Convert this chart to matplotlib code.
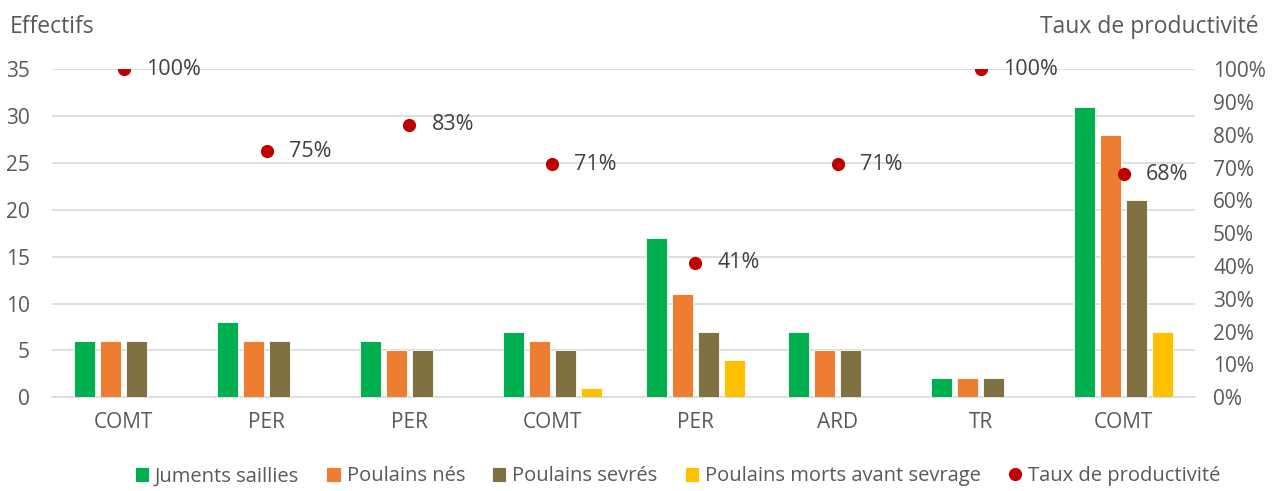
import numpy as np
import matplotlib.pyplot as plt

plt.rcParams['font.family'] = ['Open Sans', 'DejaVu Sans']

# Data
categories = ["COMT", "PER", "PER", "COMT", "PER", "ARD", "TR", "COMT"]
juments = [6, 8, 6, 7, 17, 7, 2, 31]
poulains_nes = [6, 6, 5, 6, 11, 5, 2, 28]
poulains_sevres = [6, 6, 5, 5, 7, 5, 2, 21]
poulains_morts = [0, 0, 0, 1, 4, 0, 0, 7]
taux = [1.00, 0.75, 0.83, 0.71, 0.41, 0.71, 1.00, 0.68]

series = [("Juments saillies", juments, "#00B050"),
          ("Poulains nés", poulains_nes, "#ED7D31"),
          ("Poulains sevrés", poulains_sevres, "#7F7142"),
          ("Poulains morts avant sevrage", poulains_morts, "#FFC000")]

grey = "#595959"
grid = "#D9D9D9"

fig = plt.figure(figsize=(12.74, 4.91), dpi=100)
ax = fig.add_axes([0.041, 0.191, 0.897, 0.668])
ax2 = ax.twinx()

x = np.arange(len(categories))
step = 0.182
width = 0.147
handles = []
for i, (name, vals, col) in enumerate(series):
    h = ax.bar(x + (i - 1.5) * step, vals, width, color=col, edgecolor="white",
               linewidth=0.6, label=name, zorder=3)
    handles.append(h)

ax.set_ylim(0, 35)
ax.set_yticks(range(0, 36, 5))
ax.set_xlim(-0.5, len(categories) - 0.5)
ax.set_xticks(x)
ax.set_xticklabels(categories)
ax.grid(axis="y", color=grid, linewidth=1.2, zorder=0)
ax.set_axisbelow(True)
for s in ["top", "right", "left"]:
    ax.spines[s].set_visible(False)
ax.spines["bottom"].set_color(grid)
ax.spines["bottom"].set_linewidth(1.2)
ax.tick_params(axis="both", length=0, colors=grey, labelsize=15)
ax.tick_params(axis="x", pad=11)
ax.tick_params(axis="y", pad=16)

dots, = ax2.plot(x, taux, "o", color="#C00000", markersize=8.5, linestyle="none",
                 label="Taux de productivité", zorder=4)
for xi, t in zip(x, taux):
    ax2.annotate(f"{int(round(t * 100))}%", (xi, t), xytext=(16, 0),
                 textcoords="offset points", va="center", ha="left",
                 fontsize=15.5, color="#404040")
ax2.set_ylim(0, 1.0)
ax2.set_yticks(np.arange(0, 1.01, 0.1))
ax2.set_yticklabels([f"{int(round(v * 100))}%" for v in np.arange(0, 1.01, 0.1)])
for s in ["top", "right", "left", "bottom"]:
    ax2.spines[s].set_visible(False)
ax2.tick_params(axis="y", length=0, colors=grey, labelsize=15, pad=13)

fig.text(0.008, 0.945, "Effectifs", fontsize=16.5, color=grey, va="center", ha="left")
fig.text(0.988, 0.945, "Taux de productivité", fontsize=16.5, color=grey,
         va="center", ha="right")

fig.legend(handles + [dots], [h.get_label() for h in handles] + ["Taux de productivité"],
           loc="center", bbox_to_anchor=(0.532, 0.03), ncol=5, frameon=False,
           fontsize=14.5, labelcolor=grey, handlelength=0.7, handleheight=0.8,
           handletextpad=0.3, columnspacing=1.35)

fig.savefig("out.png", dpi=100)
